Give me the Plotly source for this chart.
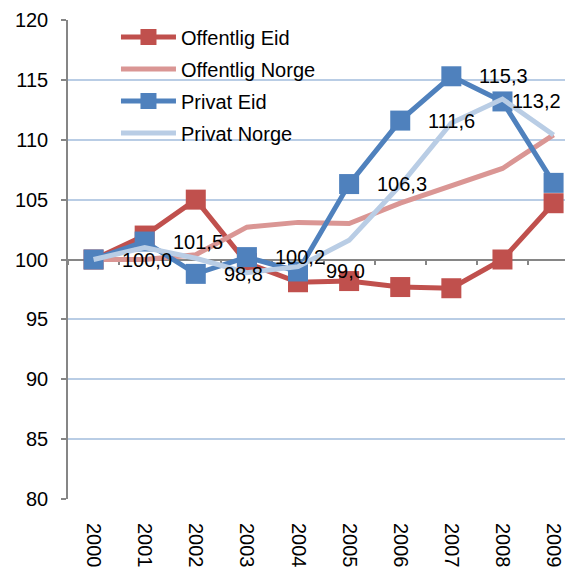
import plotly.graph_objects as go

years = ["2000", "2001", "2002", "2003", "2004", "2005", "2006", "2007", "2008", "2009"]
offentlig_eid = [100.0, 102.0, 105.0, 99.7, 98.1, 98.2, 97.7, 97.6, 100.0, 104.7]
offentlig_norge = [100.0, 100.0, 100.4, 102.7, 103.1, 103.0, 104.7, 106.2, 107.6, 110.4]
privat_eid = [100.0, 101.5, 98.8, 100.2, 99.0, 106.3, 111.6, 115.3, 113.2, 106.4]
privat_norge = [100.0, 101.0, 100.1, 98.9, 99.4, 101.6, 106.2, 111.4, 113.4, 110.4]
label_count = 9  # data labels shown for Privat Eid (2000-2008)

FONT = "Liberation Sans, Arial, sans-serif"
C_RED = "#C0504D"
C_PINK = "#DA9694"
C_BLUE = "#4F81BD"
C_LBLUE = "#B9CDE5"

fig = go.Figure()
fig.add_trace(go.Scatter(x=years, y=offentlig_eid, name="Offentlig Eid", mode="lines+markers",
                         legendgroup="a",
                         line=dict(color=C_RED, width=5),
                         marker=dict(symbol="square", size=20, color=C_RED)))
fig.add_trace(go.Scatter(x=years, y=offentlig_norge, name="Offentlig Norge", mode="lines",
                         legendgroup="b",
                         line=dict(color=C_PINK, width=5)))
fig.add_trace(go.Scatter(x=years, y=privat_eid, name="Privat Eid", mode="lines+markers",
                         legendgroup="c",
                         line=dict(color=C_BLUE, width=5),
                         marker=dict(symbol="square", size=20, color=C_BLUE)))
fig.add_trace(go.Scatter(x=years, y=privat_norge, name="Privat Norge", mode="lines",
                         legendgroup="d",
                         line=dict(color=C_LBLUE, width=5), xaxis="x2"))

for i in range(label_count):
    fig.add_annotation(x=i, y=privat_eid[i], xref="x", yref="y",
                       text=f"{privat_eid[i]:.1f}".replace(".", ","),
                       showarrow=False, xanchor="left", yanchor="middle",
                       xshift=8 if i == label_count - 1 else 26,
                       font=dict(size=20, color="black", family=FONT))

xrange = [-0.5, 9.38]
fig.update_layout(
    width=565, height=560,
    margin=dict(l=60, r=0, t=12, b=69),
    paper_bgcolor="white", plot_bgcolor="white",
    font=dict(family=FONT, size=20, color="black"),
    showlegend=True,
    legend=dict(x=0.095, y=1.005, xanchor="left", yanchor="top",
                bgcolor="rgba(0,0,0,0)", font=dict(size=20, color="black"),
                itemwidth=55, tracegroupgap=3),
    xaxis=dict(type="category", range=xrange, showgrid=False, showline=False,
               zeroline=False, ticks="", tickangle=90, ticklabelstandoff=23,
               tickfont=dict(size=20, color="black")),
    xaxis2=dict(type="category", range=xrange, overlaying="x", anchor="free",
                position=0.5, side="bottom", showgrid=False, showline=True,
                linecolor="#868686", linewidth=1.5, ticks="outside", ticklen=5,
                tickcolor="#868686", tickwidth=1.5, tickson="boundaries",
                showticklabels=False, zeroline=False, layer="below traces"),
    yaxis=dict(range=[80, 120], dtick=5, showgrid=True, gridcolor="#B9CDE5",
               gridwidth=1.5, showline=True, linecolor="#868686", linewidth=1.5,
               ticks="outside", ticklen=5, tickcolor="#868686", tickwidth=1.5,
               zeroline=False, ticklabelstandoff=9,
               tickfont=dict(size=20, color="black")),
)

fig.write_html("out.html")
